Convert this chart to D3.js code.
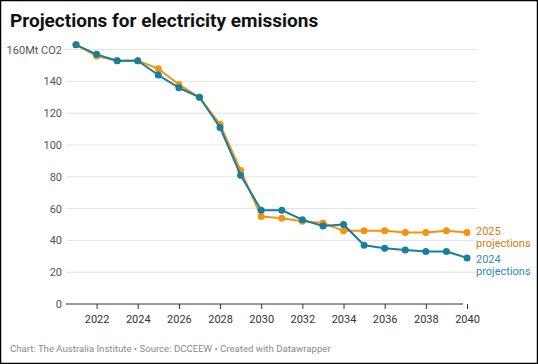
<!DOCTYPE html>
<html><head><meta charset="utf-8">
<script src="https://cdn.jsdelivr.net/npm/d3@7"></script>
<style>
html,body{margin:0;padding:0;background:#fff;}
body{width:538px;height:364px;overflow:hidden;font-family:Roboto,"Noto Sans",sans-serif;}
</style></head><body>
<svg id="c" width="538" height="364"></svg>
<script>
const years = [2021,2022,2023,2024,2025,2026,2027,2028,2029,2030,2031,2032,2033,2034,2035,2036,2037,2038,2039,2040];
const proj2025 = [163,156,153,153,148,138,130,113,84,55,54,52,51,46,46,46,45,45,46,45];
const proj2024 = [163,157,153,153,144,136,130,111,81,59,59,53,49,50,37,35,34,33,33,29];
const yTicks = [0,20,40,60,80,100,120,140,160];
const xTicks = [2022,2024,2026,2028,2030,2032,2034,2036,2038,2040];
const seriesNames = ["2025 projections","2024 projections"];

const svg = d3.select("#c");
svg.append("rect").attr("x",0.5).attr("y",0.5).attr("width",537).attr("height",363)
  .attr("fill","#fff").attr("stroke","#000").attr("stroke-width",1.5);

svg.append("text").attr("x",10).attr("y",27).text("Projections for electricity emissions")
  .attr("font-size",19).attr("font-weight",700).attr("fill","#111");

const x = d3.scaleLinear().domain([2021,2040]).range([76,467]);
const y = d3.scaleLinear().domain([0,160]).range([304,49.6]);

const gridL = 66, gridR = 477;
yTicks.forEach(t=>{
  if(t===0) return;
  svg.append("line").attr("x1",t===160?64:gridL).attr("x2",gridR).attr("y1",y(t)).attr("y2",y(t))
    .attr("stroke","#e3e3e3").attr("stroke-width",1);
});
yTicks.forEach(t=>{
  svg.append("text").attr("x",62).attr("y",y(t)+4)
    .attr("text-anchor","end").attr("font-size",11).attr("fill","#555")
    .text(t===160?"160Mt CO2":t);
});
// baseline
svg.append("line").attr("x1",gridL).attr("x2",463).attr("y1",y(0)).attr("y2",y(0))
  .attr("stroke","#333").attr("stroke-width",1);
const xAxis = d3.axisBottom(x).tickValues(xTicks).tickFormat(d3.format("d")).tickSize(5).tickPadding(6);
const gx = svg.append("g").attr("transform",`translate(0,${y(0)})`).call(xAxis);
gx.select(".domain").remove();
gx.selectAll(".tick line").attr("stroke","#333");
gx.selectAll(".tick text").attr("font-size",11).attr("fill","#333").attr("font-family","Roboto");

const line = d3.line().x((d,i)=>x(years[i])).y(d=>y(d));
const series = [
  {vals:proj2025, color:"#f5930e", label:"#d9780f"},
  {vals:proj2024, color:"#16809c", label:"#2a8fb0"}
];
series.forEach(s=>{
  svg.append("path").datum(s.vals).attr("d",line).attr("fill","none")
    .attr("stroke",s.color).attr("stroke-width",2).attr("stroke-linejoin","round");
  svg.selectAll(null).data(s.vals).enter().append("circle")
    .attr("cx",(d,i)=>x(years[i])).attr("cy",d=>y(d)).attr("r",3.5).attr("fill",s.color);
});
// labels
const lab = [
  {name:seriesNames[0], v:proj2025[proj2025.length-1], col:series[0].label, dy:-1},
  {name:seriesNames[1], v:proj2024[proj2024.length-1], col:series[1].label, dy:1}
];
lab.forEach(l=>{
  const parts = l.name.split(" ");
  const t = svg.append("text").attr("x",476).attr("y",y(l.v)+4+l.dy)
    .attr("font-size",11).attr("fill",l.col);
  t.append("tspan").attr("x",476).text(parts[0]);
  t.append("tspan").attr("x",476).attr("dy",12).text(parts[1]);
});

svg.append("text").attr("x",10).attr("y",352).attr("font-size",9.6).attr("fill","#8a8a8a")
  .text("Chart: The Australia Institute  \u2022 Source: DCCEEW \u2022 Created with Datawrapper");
</script></body></html>
